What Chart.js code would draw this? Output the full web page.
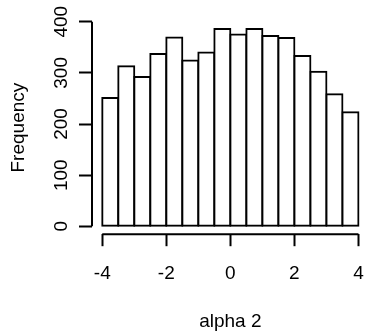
<!DOCTYPE html>
<html>
<head>
<meta charset="utf-8">
<script src="https://cdn.jsdelivr.net/npm/chart.js@4/dist/chart.umd.min.js"></script>
<style>
  html, body { margin: 0; padding: 0; background: #fff; overflow: hidden; }
  #wrap { width: 380px; height: 335px; }
</style>
</head>
<body>
<div id="wrap"><canvas id="histChart"></canvas></div>
<script>
// histogram of alpha 2, breaks every 0.5 from -4 to 4
const binStarts = [-4, -3.5, -3, -2.5, -2, -1.5, -1, -0.5, 0, 0.5, 1, 1.5, 2, 2.5, 3, 3.5];
const counts = [251, 313, 292, 337, 369, 324, 340, 386, 375, 386, 372, 368, 333, 302, 258, 223];
const xTicks = [-4, -2, 0, 2, 4];
const yTicks = [0, 100, 200, 300, 400];

const binWidth = 0.5;
const FONT = { family: 'Liberation Sans, Arial, sans-serif', size: 19 };

// R style axes: the line only runs from first tick to last tick
const rAxisLines = {
    id: 'rAxisLines',
    afterDraw: (chart) => {
        const { ctx, chartArea, scales: { x, y } } = chart;
        ctx.save();
        ctx.strokeStyle = '#000';
        ctx.lineWidth = 2;
        ctx.beginPath();
        ctx.moveTo(x.getPixelForValue(xTicks[0]), chartArea.bottom);
        ctx.lineTo(x.getPixelForValue(xTicks[xTicks.length - 1]), chartArea.bottom);
        ctx.moveTo(chartArea.left, y.getPixelForValue(yTicks[0]));
        ctx.lineTo(chartArea.left, y.getPixelForValue(yTicks[yTicks.length - 1]));
        ctx.stroke();
        ctx.restore();
    }
};

const ctx = document.getElementById('histChart').getContext('2d');
new Chart(ctx, {
    type: 'bar',
    data: {
        datasets: [{
            data: binStarts.map((b, i) => ({ x: b + binWidth / 2, y: counts[i] })),
            backgroundColor: '#fff',
            borderColor: '#000',
            borderWidth: 2,
            borderSkipped: false,
            inflateAmount: 1,
            barPercentage: 1,
            categoryPercentage: 1
        }]
    },
    options: {
        responsive: true,
        maintainAspectRatio: false,
        animation: false,
        layout: { padding: { top: 21, right: 9.7, left: 0, bottom: 0 } },
        plugins: { legend: { display: false }, tooltip: { enabled: false } },
        scales: {
            x: {
                type: 'linear',
                min: -4.32,
                max: 4.32,
                offset: false,
                afterBuildTicks: s => { s.ticks = xTicks.map(v => ({ value: v })); },
                afterFit: s => { s.height = 335 - 234.2; },
                border: { display: false },
                grid: { offset: false, drawOnChartArea: false, color: '#000', tickLength: 12, tickWidth: 2 },
                ticks: { color: '#000', font: FONT, padding: 15.9, maxRotation: 0, autoSkip: false },
                title: { display: true, text: 'alpha 2', color: '#000', font: FONT, padding: { top: 0, bottom: 1.7 } }
            },
            y: {
                min: -15.44,
                max: 401.44,
                afterBuildTicks: s => { s.ticks = yTicks.map(v => ({ value: v })); },
                afterFit: s => { s.width = 92; },
                border: { display: false },
                grid: { drawOnChartArea: false, color: '#000', tickLength: 13, tickWidth: 2 },
                ticks: { color: '#000', font: FONT, padding: 1.15, minRotation: 90, maxRotation: 90, crossAlign: 'center', autoSkip: false },
                title: { display: true, text: 'Frequency', color: '#000', font: FONT, padding: { top: 7.3, bottom: 0 } }
            }
        }
    },
    plugins: [rAxisLines]
});
</script>
</body>
</html>
